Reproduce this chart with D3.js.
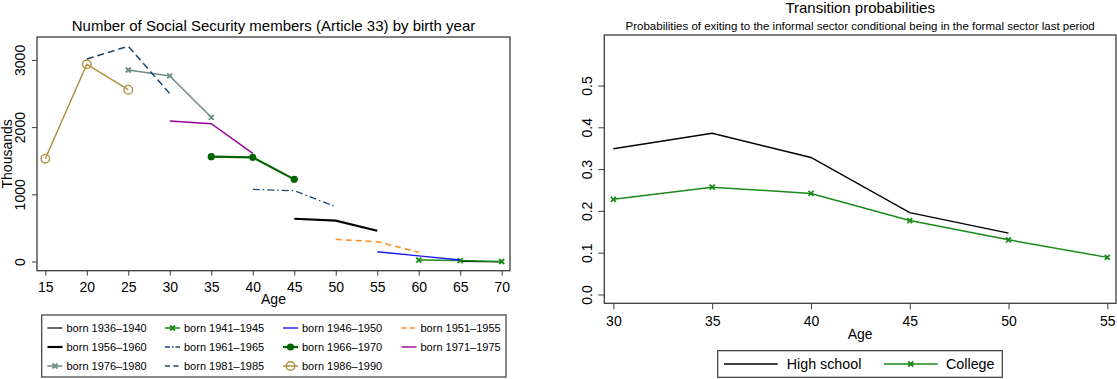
<!DOCTYPE html>
<html><head><meta charset="utf-8">
<script src="https://cdn.jsdelivr.net/npm/d3@7"></script>
<style>
body{margin:0;background:#fff;}
svg{display:block;font-family:"Liberation Sans",Arial,Helvetica,sans-serif;}
</style></head>
<body><svg id="c" width="1117" height="379"></svg>
<script>
// ---------- Left chart data ----------
const cohorts = ["born 1936–1940","born 1941–1945","born 1946–1950","born 1951–1955",
  "born 1956–1960","born 1961–1965","born 1966–1970","born 1971–1975",
  "born 1976–1980","born 1981–1985","born 1986–1990"];
const cohortAges = [
  [65,70],[60,65,70],[55,60,65],[50,55,60],
  [45,50,55],[40,45,50],[35,40,45],[30,35,40],
  [25,30,35],[20,25,30],[15,20,25]];
const cohortValues = [
  [8,3],[30,22,8],[153,92,30],[338,302,144],
  [644,615,466],[1082,1061,823],[1567,1558,1230],[2098,2058,1617],
  [2857,2768,2153],[3021,3210,2505],[1537,2942,2564]];
const leftXTicks = [15,20,25,30,35,40,45,50,55,60,65,70];
const leftYTicks = [0,1000,2000,3000];

// ---------- Right chart data ----------
const ages2 = [30,35,40,45,50,55];
const highSchool = [0.350,0.387,0.329,0.197,0.148,null];
const college = [0.229,0.258,0.243,0.178,0.132,0.090];
const rightYTicks = [0,0.1,0.2,0.3,0.4,0.5];
const rightLegend = ["High school","College"];

// ---------- styles ----------
const cohortStyle = [
  {c:"#000000",w:1.2,d:null,m:null},
  {c:"#1a8a1a",w:1.5,d:null,m:"x"},
  {c:"#1515ff",w:1.4,d:null,m:null},
  {c:"#ff8c1a",w:1.5,d:"6,4",m:null},
  {c:"#000000",w:2.2,d:null,m:null},
  {c:"#1a476f",w:1.3,d:"7,3,1.5,3",m:null},
  {c:"#006400",w:2.2,d:null,m:"dot"},
  {c:"#990099",w:1.4,d:null,m:null},
  {c:"#6e8e84",w:1.5,d:null,m:"x"},
  {c:"#1a476f",w:1.5,d:"7,4",m:null},
  {c:"#b0913e",w:1.5,d:null,m:"o"}];

const svg = d3.select("#c");
const frameColor = "#3c3c3c";

function drawMarker(g, type, x, y, color){
  if(type==="x"){
    g.append("path").attr("d",`M${x-2.5},${y-2.5}L${x+2.5},${y+2.5}M${x-2.5},${y+2.5}L${x+2.5},${y-2.5}`)
      .attr("stroke",color).attr("stroke-width",1.8).attr("fill","none");
  } else if(type==="dot"){
    g.append("circle").attr("cx",x).attr("cy",y).attr("r",3.6).attr("fill",color);
  } else if(type==="o"){
    g.append("circle").attr("cx",x).attr("cy",y).attr("r",4.3).attr("fill","none")
      .attr("stroke",color).attr("stroke-width",1.4);
  }
}

// ================= LEFT =================
{
  const L=37,R=510,T=37,B=270.7;
  const x = d3.scaleLinear().domain([14,71]).range([L,R]);
  const y = d3.scaleLinear().domain([-129,3348]).range([B,T]);
  const g = svg.append("g");
  g.append("text").attr("x",(L+R)/2).attr("y",31).attr("text-anchor","middle")
    .attr("font-size",15).text("Number of Social Security members (Article 33) by birth year");

  const xa = g.append("g").attr("transform",`translate(0,${B})`)
    .call(d3.axisBottom(x).tickValues(leftXTicks).tickSize(5).tickSizeOuter(0).tickFormat(d3.format("d")));
  xa.select(".domain").remove();
  xa.selectAll("text").attr("font-size",14).attr("fill","#000").attr("dy","0.95em");
  xa.selectAll("line").attr("stroke",frameColor);

  const ya = g.append("g").attr("transform",`translate(${L},0)`)
    .call(d3.axisLeft(y).tickValues(leftYTicks).tickSize(5).tickSizeOuter(0).tickFormat(d3.format("d")));
  ya.select(".domain").remove();
  ya.selectAll("line").attr("stroke",frameColor);
  ya.selectAll("text").attr("font-size",14).attr("fill","#000")
    .attr("x",0).attr("dy",0).attr("text-anchor","middle")
    .attr("transform",d=>`translate(-12,${y(d)}) rotate(-90)`).attr("y",0);
  ya.selectAll(".tick").attr("transform",null);
  ya.selectAll(".tick line").attr("transform",d=>`translate(0,${y(d)})`);

  g.append("text").attr("transform",`translate(12,${(T+B)/2}) rotate(-90)`)
    .attr("text-anchor","middle").attr("font-size",14).text("Thousands");
  g.append("text").attr("x",(L+R)/2).attr("y",304).attr("text-anchor","middle")
    .attr("font-size",14).text("Age");

  const line = d3.line().x(d=>x(d[0])).y(d=>y(d[1]));
  const order=[0,1,2,3,4,5,7,6,8,9,10];
  order.forEach(i=>{
    const s=cohortStyle[i];
    const pts=cohortAges[i].map((a,j)=>[a,cohortValues[i][j]]);
    g.append("path").datum(pts).attr("d",line).attr("fill","none")
      .attr("stroke",s.c).attr("stroke-width",s.w).attr("stroke-dasharray",s.d);
    if(s.m) pts.forEach(p=>drawMarker(g,s.m,x(p[0]),y(p[1]),s.c));
  });

  g.append("rect").attr("x",L).attr("y",T).attr("width",R-L).attr("height",B-T)
    .attr("fill","none").attr("stroke",frameColor).attr("stroke-width",1.3);

  // legend
  const lg = svg.append("g");
  lg.append("rect").attr("x",41.7).attr("y",315).attr("width",464.3).attr("height",62)
    .attr("fill","none").attr("stroke",frameColor).attr("stroke-width",1.2);
  const colX=[47.5,165,283,401.5], rowY=[328,347,366];
  cohorts.forEach((name,i)=>{
    const cx=colX[i%4], cy=rowY[Math.floor(i/4)], s=cohortStyle[i];
    lg.append("line").attr("x1",cx).attr("x2",cx+15).attr("y1",cy).attr("y2",cy)
      .attr("stroke",s.c).attr("stroke-width",s.w).attr("stroke-dasharray",s.d?(s.d.split(",").length>2?"5,2,1.5,2":"5,3.5"):null);
    if(s.m) drawMarker(lg,s.m,cx+7.5,cy,s.c);
    lg.append("text").attr("x",cx+19).attr("y",cy).attr("dy","0.35em")
      .attr("font-size",11).text(name);
  });
}

// ================= RIGHT =================
{
  const L=604.3,R=1116,T=35,B=303.3;
  const x = d3.scaleLinear().domain([29.54,55.44]).range([L,R]);
  const y = d3.scaleLinear().domain([-0.0199,0.622]).range([B,T]);
  const g = svg.append("g");
  g.append("text").attr("x",(L+R)/2).attr("y",12.5).attr("text-anchor","middle")
    .attr("font-size",15).text("Transition probabilities");
  g.append("text").attr("x",(L+R)/2).attr("y",29.5).attr("text-anchor","middle")
    .attr("font-size",11.5).text("Probabilities of exiting to the informal sector conditional being in the formal sector last period");

  const xa = g.append("g").attr("transform",`translate(0,${B})`)
    .call(d3.axisBottom(x).tickValues(ages2).tickSize(6).tickSizeOuter(0).tickFormat(d3.format("d")));
  xa.select(".domain").remove();
  xa.selectAll("text").attr("font-size",14).attr("fill","#000").attr("dy","0.95em");
  xa.selectAll("line").attr("stroke",frameColor);

  const ya = g.append("g").attr("transform",`translate(${L},0)`)
    .call(d3.axisLeft(y).tickValues(rightYTicks).tickSize(6).tickSizeOuter(0).tickFormat(d3.format(".1f")));
  ya.select(".domain").remove();
  ya.selectAll("line").attr("stroke",frameColor);
  ya.selectAll(".tick").attr("transform",null);
  ya.selectAll(".tick line").attr("transform",d=>`translate(0,${y(d)})`);
  ya.selectAll("text").attr("font-size",14).attr("fill","#000")
    .attr("x",0).attr("y",0).attr("dy",0).attr("text-anchor","middle")
    .attr("transform",d=>`translate(-12,${y(d)}) rotate(-90)`);

  g.append("text").attr("x",(L+R)/2).attr("y",339).attr("text-anchor","middle")
    .attr("font-size",14).text("Age");

  const line = d3.line().defined(d=>d[1]!=null).x(d=>x(d[0])).y(d=>y(d[1]));
  g.append("path").datum(ages2.map((a,i)=>[a,highSchool[i]])).attr("d",line)
    .attr("fill","none").attr("stroke","#000").attr("stroke-width",1.4);
  g.append("path").datum(ages2.map((a,i)=>[a,college[i]])).attr("d",line)
    .attr("fill","none").attr("stroke","#1a8a1a").attr("stroke-width",1.5);
  ages2.forEach((a,i)=>{ if(college[i]!=null) drawMarker(g,"x",x(a),y(college[i]),"#1a8a1a"); });

  g.append("rect").attr("x",L).attr("y",T).attr("width",R-L).attr("height",B-T)
    .attr("fill","none").attr("stroke",frameColor).attr("stroke-width",1.3);

  const lg = svg.append("g");
  lg.append("rect").attr("x",717.7).attr("y",350.7).attr("width",284.6).attr("height",26.6)
    .attr("fill","none").attr("stroke",frameColor).attr("stroke-width",1.2);
  const ly=364;
  lg.append("line").attr("x1",724).attr("x2",777.7).attr("y1",ly).attr("y2",ly).attr("stroke","#000").attr("stroke-width",1.4);
  lg.append("text").attr("x",786.7).attr("y",ly).attr("dy","0.35em").attr("font-size",14.3).text(rightLegend[0]);
  lg.append("line").attr("x1",884).attr("x2",937.7).attr("y1",ly).attr("y2",ly).attr("stroke","#1a8a1a").attr("stroke-width",1.5);
  drawMarker(lg,"x",910.8,ly,"#1a8a1a");
  lg.append("text").attr("x",946).attr("y",ly).attr("dy","0.35em").attr("font-size",14.3).text(rightLegend[1]);
}
</script></body></html>
